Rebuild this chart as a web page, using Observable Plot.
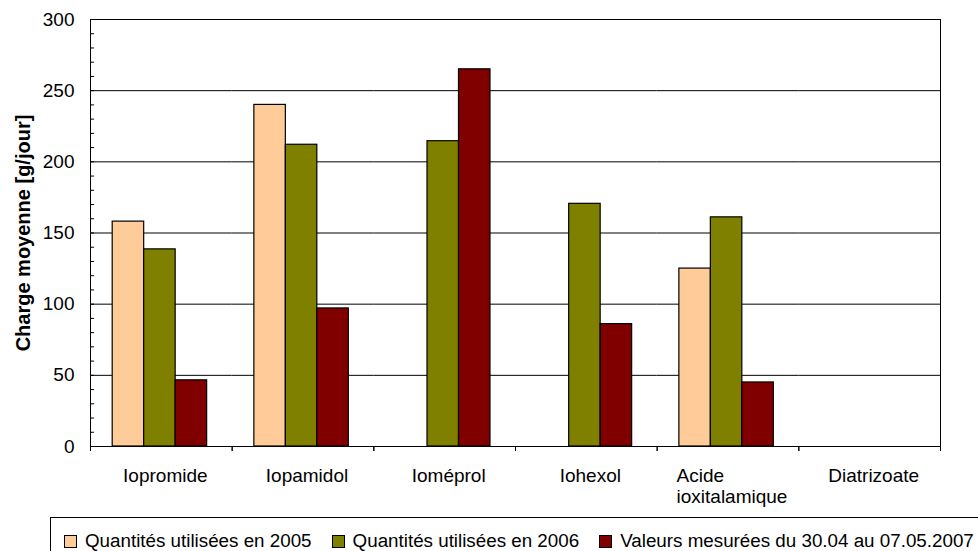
<!DOCTYPE html>
<html>
<head>
<meta charset="utf-8">
<script src="https://cdn.jsdelivr.net/npm/d3@7"></script>
<script src="https://cdn.jsdelivr.net/npm/@observablehq/plot@0.6"></script>
<style>
  body { margin: 0; background: #fff; width: 978px; height: 551px; overflow: hidden;
         font-family: "Liberation Sans", Arial, sans-serif; }
  #legend { margin-left: 50px; margin-top: 2px; width: 1000px; height: 60px; box-sizing: border-box;
            border: 1px solid #000; display: flex; align-items: center; align-self: flex-start;
            padding: 0 0 12px 13px; font-size: 18.8px; color: #000; }
  #legend .item { display: flex; align-items: center; margin-right: 20px; white-space: nowrap; }
  #legend .sw { width: 11px; height: 11px; border: 1px solid #000; margin-right: 8px; }
</style>
</head>
<body>
<div id="chart"></div>
<div id="legend"></div>
<script>
// Categories (contrast agents) and the three series of daily loads, in g/jour
const categories = ["Iopromide", "Iopamidol", "Ioméprol", "Iohexol", "Acide\nioxitalamique", "Diatrizoate"];
const series = [
  "Quantités utilisées en 2005",
  "Quantités utilisées en 2006",
  "Valeurs mesurées du 30.04 au 07.05.2007"
];
const values2005 = [158, 240, null, null, 125, null];
const values2006 = [138.5, 212, 214.5, 170.5, 161, null];
const values2007 = [46.5, 97, 265, 86, 45, null];
const seriesColors = ["#FFCC99", "#808000", "#800000"];
const yTicks = [0, 50, 100, 150, 200, 250, 300];
const yMinorTicks = d3.range(0, 301, 10);
const yLabel = "Charge moyenne [g/jour]";

// Long table: one row per (category, series); missing values stay null so every
// category keeps its facet
const columns = [values2005, values2006, values2007];
const rows = [];
categories.forEach((c, i) => {
  series.forEach((s, j) => rows.push({category: c, series: s, value: columns[j][i]}));
});

const width = 978, height = 515;
const marginLeft = 90, marginRight = 38;
const band = (width - marginLeft - marginRight) / categories.length;
const minorTick = 4;

const chart = Plot.plot({
  width, height,
  marginLeft, marginRight, marginTop: 19, marginBottom: 69,
  style: {fontFamily: "'Liberation Sans', Arial, sans-serif", fontSize: "19px", color: "#000", background: "#fff"},
  fx: {domain: categories, padding: 0, round: false, label: null, axis: null},
  x: {domain: series, paddingInner: 0, paddingOuter: 0.75, align: 0.47, round: false, axis: null},
  y: {domain: [0, 300], axis: null},
  color: {domain: series, range: seriesColors},
  marks: [
    Plot.gridY(yTicks, {stroke: "#000", strokeOpacity: 1, strokeWidth: 1}),
    Plot.barY(rows, {fx: "category", x: "series", y: "value", fill: "series", stroke: "#000", strokeWidth: 1.2}),
    Plot.frame({facet: "super", stroke: "#000", strokeWidth: 1}),
    // y axis: minor ticks every 10 drawn inside the frame, labels every 50
    Plot.axisY(yMinorTicks, {tickSize: minorTick, dx: minorTick, text: null, label: null, stroke: "#000", strokeOpacity: 1}),
    Plot.axisY(yTicks, {tickSize: 0, tickPadding: 16, label: null, fontSize: 19}),
    Plot.text([yLabel], {fx: [categories[0]], frameAnchor: "left", textAnchor: "middle", rotate: -90, dx: -67,
                         fontWeight: "bold", fontSize: 20}),
    // category labels, and ticks between categories
    Plot.axisFx({anchor: "bottom", tickSize: 0, tickPadding: 20, dx: 4, label: null, lineHeight: 1.12, fontSize: 19}),
    Plot.axisFx({anchor: "bottom", tickSize: 5, text: null, label: null, dx: -band / 2}),
    Plot.axisFx([categories[categories.length - 1]], {anchor: "bottom", tickSize: 5, text: null, label: null, dx: band / 2})
  ]
});

document.getElementById("chart").append(chart);

// wrapped labels: left-align the lines inside a centred block
chart.querySelectorAll("text").forEach(t => {
  const spans = t.querySelectorAll("tspan");
  if (spans.length > 1) {
    const w = d3.max(Array.from(spans), s => s.getComputedTextLength());
    t.setAttribute("text-anchor", "start");
    spans.forEach(s => s.setAttribute("x", -w / 2));
  }
});

// legend
const legend = d3.select("#legend");
series.forEach((s, j) => {
  const item = legend.append("div").attr("class", "item");
  item.append("div").attr("class", "sw").style("background", seriesColors[j]);
  item.append("span").text(s);
});
</script>
</body>
</html>
